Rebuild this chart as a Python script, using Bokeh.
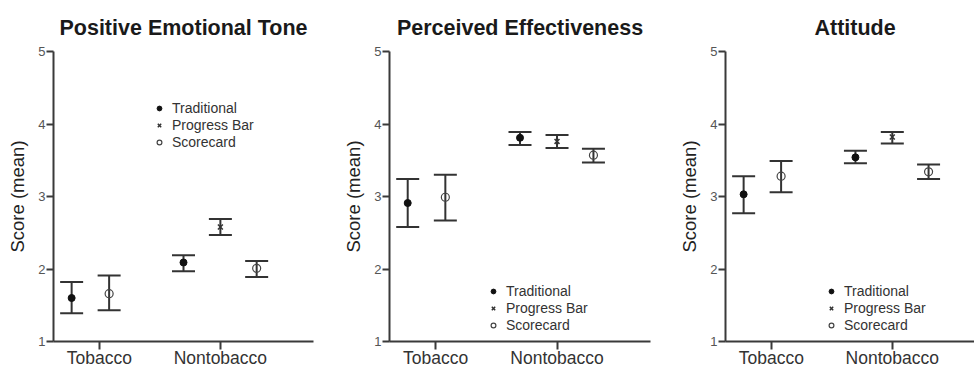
from bokeh.plotting import figure
from bokeh.models import (Range1d, FixedTicker, Whisker, ColumnDataSource, Legend,
                          LegendItem, TeeHead)
from bokeh.layouts import row
from bokeh.embed import file_html
from bokeh.resources import INLINE

titles = ["Positive Emotional Tone", "Perceived Effectiveness", "Attitude"]
groups = ["Tobacco", "Nontobacco"]
series = ["Traditional", "Progress Bar", "Scorecard"]

# values per panel, per group (Tobacco, Nontobacco); None = not shown
trad_mean = [[1.60, 2.09], [2.91, 3.81], [3.03, 3.54]]
trad_low = [[1.39, 1.97], [2.58, 3.71], [2.77, 3.46]]
trad_high = [[1.82, 2.19], [3.24, 3.89], [3.28, 3.63]]

prog_mean = [[None, 2.58], [None, 3.76], [None, 3.82]]
prog_low = [[None, 2.47], [None, 3.67], [None, 3.73]]
prog_high = [[None, 2.69], [None, 3.85], [None, 3.89]]

score_mean = [[1.66, 2.01], [2.99, 3.57], [3.28, 3.34]]
score_low = [[1.43, 1.89], [2.67, 3.47], [3.06, 3.24]]
score_high = [[1.91, 2.11], [3.30, 3.66], [3.49, 3.44]]

y_ticks = [1, 2, 3, 4, 5]

# layout / style
offsets = {"Traditional": [-0.23, -0.305], "Progress Bar": [0.0, 0.0], "Scorecard": [0.08, 0.30]}
markers = {
    "Traditional": dict(marker="circle", size=7, fill_color="#111111", line_color="#111111"),
    "Progress Bar": dict(marker="x", size=7, line_color="#333333", line_width=1.5),
    "Scorecard": dict(marker="circle", size=8, fill_color=None, line_color="#444444", line_width=1.2),
}
data_by_series = {
    "Traditional": (trad_mean, trad_low, trad_high),
    "Progress Bar": (prog_mean, prog_low, prog_high),
    "Scorecard": (score_mean, score_low, score_high),
}
fig_widths = [336, 336, 302]
border_right = [23, 22, 0]
x_ends = [2.77, 2.77, 2.68]
legend_locs = [(100, 191), (98, 8), (100, 8)]
AX = "#3a3a3a"
FONT = "Liberation Sans"

figs = []
for i, title in enumerate(titles):
    p = figure(width=fig_widths[i], height=370,
               x_range=Range1d(0.62, x_ends[i]), y_range=Range1d(1, 5),
               output_backend="svg", toolbar_location=None,
               min_border_left=53, min_border_right=border_right[i],
               min_border_top=51, min_border_bottom=0)
    p.outline_line_color = None
    p.xgrid.visible = False
    p.ygrid.visible = False
    p.background_fill_color = "white"

    p.title.text = title
    p.title.text_font = FONT
    p.title.text_font_size = "21.5px"
    p.title.text_font_style = "bold"
    p.title.text_color = "#1a1a1a"
    if i < 2:
        p.title.align = "center"
    else:
        p.title.align = "left"
        p.title.offset = 89
    p.title.standoff = 23

    p.xaxis.ticker = FixedTicker(ticks=[1, 2])
    p.xaxis.major_label_overrides = {1: groups[0], 2: groups[1]}
    p.xaxis.major_tick_out = 8
    p.xaxis.major_tick_in = 0
    p.xaxis.minor_tick_line_color = None
    p.xaxis.major_label_standoff = -2
    p.xaxis.major_label_text_font = FONT
    p.xaxis.major_label_text_font_size = "17.5px"
    p.xaxis.major_label_text_color = "#333333"

    p.yaxis.ticker = FixedTicker(ticks=y_ticks)
    p.yaxis.major_tick_out = 7
    p.yaxis.major_tick_in = 0
    p.yaxis.minor_tick_line_color = None
    p.yaxis.major_label_standoff = 1
    p.yaxis.major_label_text_font = FONT
    p.yaxis.major_label_text_font_size = "13px"
    p.yaxis.major_label_text_color = "#555555"
    p.yaxis.axis_label = "Score (mean)"
    p.yaxis.axis_label_text_font = FONT
    p.yaxis.axis_label_text_font_size = "18.5px"
    p.yaxis.axis_label_text_font_style = "normal"
    p.yaxis.axis_label_text_color = "#222222"
    p.yaxis.axis_label_standoff = 7

    for ax in (p.xaxis, p.yaxis):
        ax.axis_line_color = AX
        ax.axis_line_width = 2
        ax.major_tick_line_color = AX
        ax.major_tick_line_width = 2

    items = []
    for s in series:
        m, lo, hi = data_by_series[s]
        xs, ms, los, his = [], [], [], []
        for g in range(len(groups)):
            if m[i][g] is None:
                continue
            xs.append(g + 1 + offsets[s][g])
            ms.append(m[i][g])
            los.append(lo[i][g])
            his.append(hi[i][g])
        src = ColumnDataSource(dict(x=xs, mean=ms, low=los, high=his))
        w = Whisker(source=src, base="x", upper="high", lower="low", dimension="height",
                    line_color="#333333", line_width=2,
                    upper_head=TeeHead(size=23, line_color="#333333", line_width=2),
                    lower_head=TeeHead(size=23, line_color="#333333", line_width=2))
        p.add_layout(w)
        r = p.scatter("x", "mean", source=src, **markers[s])
        items.append(LegendItem(label=s, renderers=[r]))

    leg = Legend(items=items, location=legend_locs[i], margin=0, padding=0, spacing=1,
                 glyph_width=12, glyph_height=16, label_height=16, label_standoff=7,
                 label_text_font=FONT, label_text_font_size="14px",
                 label_text_color="#333333",
                 background_fill_alpha=0, border_line_alpha=0)
    p.add_layout(leg, "center")
    figs.append(p)

layout = row(*figs, spacing=0)
open("out.html", "w").write(file_html(layout, INLINE))
